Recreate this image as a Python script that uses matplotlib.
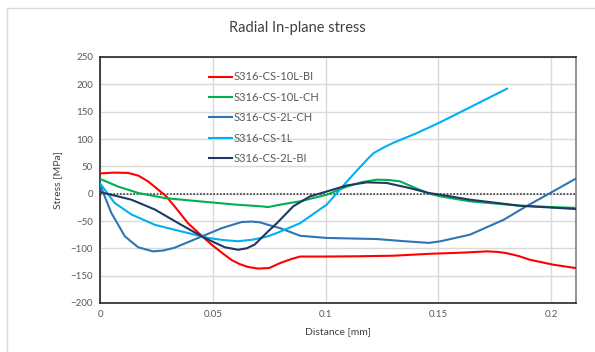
import matplotlib.pyplot as plt
from matplotlib.lines import Line2D

# data
x_red = [0, 0.006, 0.0124, 0.017, 0.0213, 0.025, 0.0294, 0.034, 0.039, 0.044, 0.0494, 0.054, 0.0582, 0.062,
         0.0656, 0.07, 0.075, 0.0798, 0.0845, 0.0887, 0.1005, 0.115, 0.13, 0.146, 0.16, 0.1715, 0.176, 0.18,
         0.1855, 0.1907, 0.201, 0.2107]
y_red = [37, 38.5, 38, 33, 22.5, 10, -5, -28, -54, -73, -93, -108, -121, -129,
         -134, -137, -136, -127, -120, -115, -115, -114.5, -113.5, -110, -108, -105.6, -106.5, -108.6,
         -114, -121, -130, -136]

x_green = [0, 0.008, 0.0169, 0.0287, 0.04, 0.0494, 0.06, 0.071, 0.0745, 0.08, 0.0887, 0.1005, 0.1094,
           0.116, 0.1227, 0.128, 0.133, 0.14, 0.146, 0.151, 0.164, 0.186, 0.1996, 0.2107]
y_green = [27, 13, 1.3, -8, -12.5, -16, -20, -23, -24.5, -20, -14, -2, 13,
           21, 25.6, 25, 22.5, 10, 0, -5, -14, -22, -24.4, -26]

x_blue = [0, 0.005, 0.011, 0.0169, 0.0235, 0.028, 0.033, 0.0435, 0.054, 0.0627, 0.067, 0.071, 0.0745,
          0.0798, 0.0887, 0.1005, 0.1227, 0.135, 0.142, 0.146, 0.151, 0.164, 0.179, 0.189, 0.1996, 0.2107]
y_blue = [16.5, -35, -78, -98, -105.6, -104, -99, -81, -63, -52, -51, -52.5, -57,
          -63, -77, -81, -83, -87, -89, -90, -87, -75, -47.6, -23, 1.3, 27]

x_lblue = [0, 0.0065, 0.0139, 0.0243, 0.036, 0.0479, 0.055, 0.0612, 0.068, 0.0745, 0.0784, 0.0887,
           0.1005, 0.105, 0.1094, 0.1138, 0.1183, 0.1212, 0.126, 0.13, 0.14, 0.15, 0.165, 0.1804]
y_lblue = [19, -17, -38, -57, -69, -81, -85, -87, -84, -78, -72, -54,
           -20, 1, 22, 42, 62, 74, 85, 93, 110, 129, 160, 192]

x_navy = [0, 0.0139, 0.0243, 0.036, 0.0464, 0.0553, 0.0612, 0.065, 0.0686, 0.0745, 0.0784, 0.0857,
          0.0931, 0.1005, 0.1094, 0.1183, 0.127, 0.1375, 0.146, 0.151, 0.164, 0.186, 0.2107]
y_navy = [3, -11, -29, -57, -81, -98, -102.6, -100, -93, -69, -54, -23,
          -5, 4, 15, 20.7, 19.6, 10, 1, -2, -11, -22, -28]

labels = ["S316-CS-10L-BI", "S316-CS-10L-CH", "S316-CS-2L-CH", "S316-CS-1L", "S316-CS-2L-BI"]
colors = ["#FF0000", "#00B050", "#2E75B6", "#00B0F0", "#1F3864"]

plt.rcParams['font.family'] = ['Lato', 'DejaVu Sans']

fig = plt.figure(figsize=(5.95, 3.52), dpi=100)
ax = fig.add_axes([100/595, 1-303/352, 476/595, 246/352])

series = [(x_red, y_red), (x_green, y_green), (x_blue, y_blue), (x_lblue, y_lblue), (x_navy, y_navy)]
for (xs, ys), c, lab in zip(series, colors, labels):
    ax.plot(xs, ys, color=c, lw=1.5, label=lab, zorder=3, solid_joinstyle='round')

ax.axhline(0, color='#404040', lw=1.2, linestyle=(0, (1, 1)), zorder=2)

ax.set_xlim(0, 0.211)
ax.set_ylim(-200, 250)
ax.set_xticks([0, 0.05, 0.1, 0.15, 0.2])
ax.set_xticklabels(["0", "0.05", "0.1", "0.15", "0.2"])
ax.set_yticks(range(-200, 251, 50))
ax.grid(True, color='#D9D9D9', lw=1)
ax.set_axisbelow(True)
ax.tick_params(length=0, labelsize=7, colors='#595959', pad=5)

for s in ['left', 'bottom', 'top']:
    ax.spines[s].set_color('#262626')
    ax.spines[s].set_linewidth(1.2)
ax.spines['right'].set_color('#808080')
ax.spines['right'].set_linewidth(1.2)

ax.set_xlabel("Distance [mm]", fontsize=7.5, color='#404040', labelpad=6)
ax.set_ylabel("Stress [MPa]", fontsize=7.5, color='#404040', labelpad=6)
fig.text(0.5, 1-28/352, "Radial In-plane stress", ha='center', va='center', fontsize=10.5, color='#404040')

leg = ax.legend(loc='upper left', bbox_to_anchor=(105/476, 1-10/246), frameon=False,
                fontsize=8, handlelength=2.0, handletextpad=0.2, labelspacing=0.85,
                borderaxespad=0)
for t in leg.get_texts():
    t.set_color('#595959')

# chart area border (top and left visible)
fig.add_artist(Line2D([7/595, 7/595], [0, 1-8/352], color='#D9D9D9', lw=1))
fig.add_artist(Line2D([7/595, 1], [1-8/352, 1-8/352], color='#D9D9D9', lw=1))

fig.savefig("out.png", dpi=100)
